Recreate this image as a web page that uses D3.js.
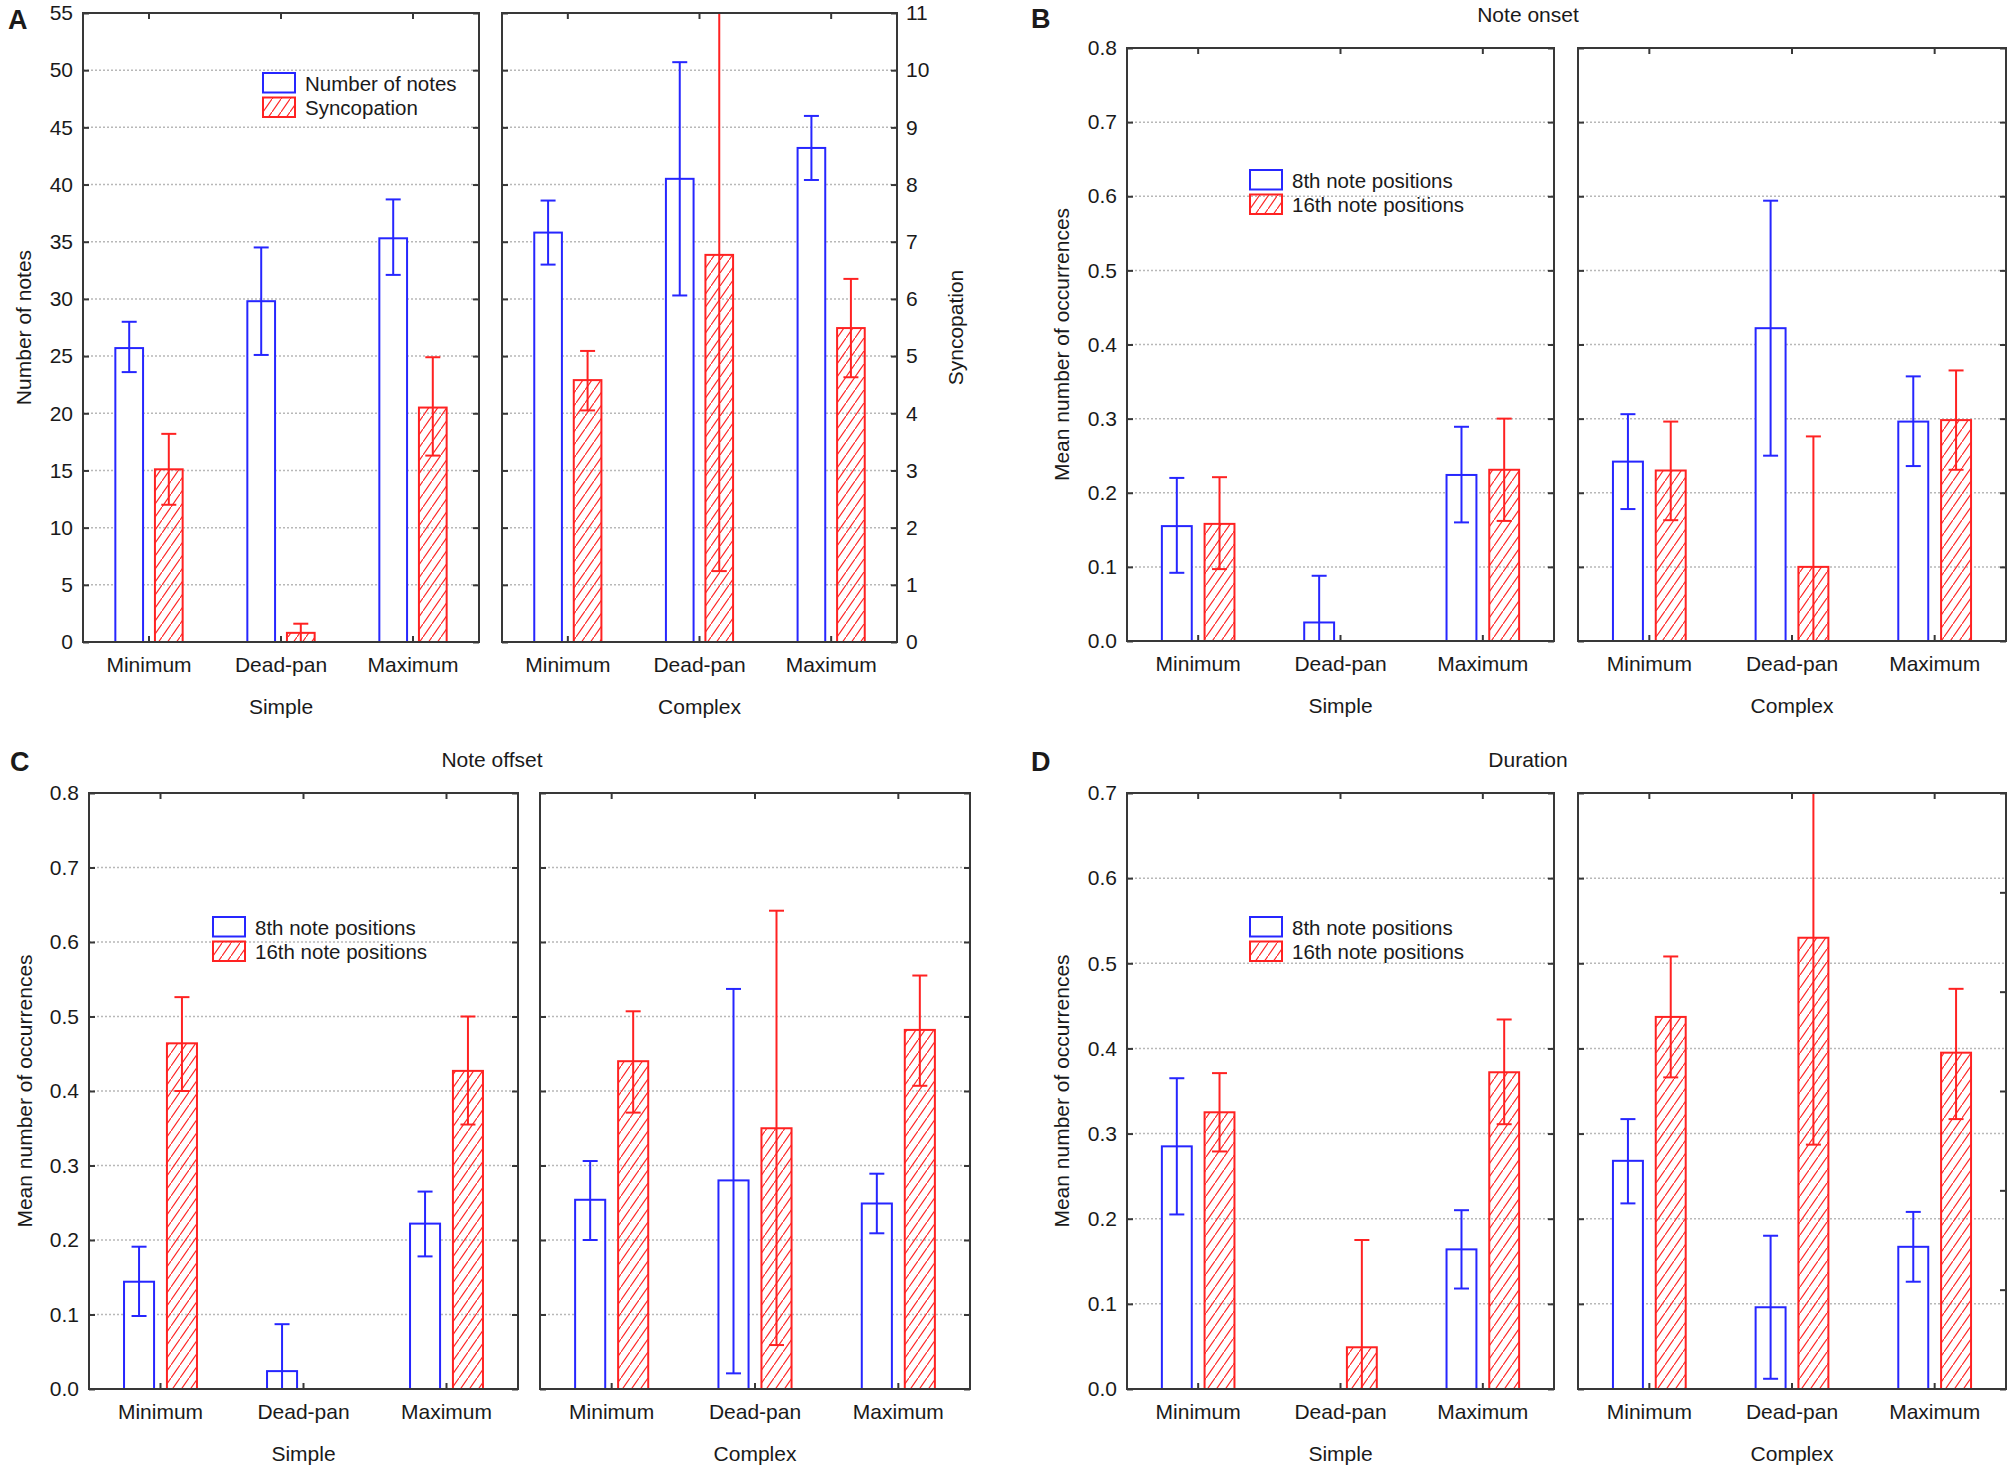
<!DOCTYPE html>
<html>
<head>
<meta charset="utf-8">
<script src="https://cdn.jsdelivr.net/npm/d3@7"></script>
<style>
body { margin: 0; background: #fff; }
text { font-family: "Liberation Sans", Arial, sans-serif; fill: #1a1a1a; }
</style>
</head>
<body>
<svg id="chart" width="2008" height="1469"></svg>
<script>
var conditions = ["Minimum", "Dead-pan", "Maximum"];
var groups = ["Simple", "Complex"];

// values are simple (Min, Dead-pan, Max) then complex (Min, Dead-pan, Max)
// panel A
var notesMean = [25.7, 29.8, 35.3, 35.8, 40.5, 43.2];
var notesLo   = [23.6, 25.1, 32.1, 33.0, 30.3, 40.4];
var notesHi   = [28.0, 34.5, 38.7, 38.6, 50.7, 46.0];
var syncMean  = [3.02, 0.16, 4.10, 4.58, 6.77, 5.49];
var syncLo    = [2.40, 0.00, 3.26, 4.05, 1.24, 4.63];
var syncHi    = [3.64, 0.32, 4.98, 5.09, 12.3, 6.35];
// panel B note onset
var onset8Mean  = [0.155, 0.025, 0.224, 0.242, 0.422, 0.296];
var onset8Lo    = [0.092, -0.038, 0.160, 0.178, 0.250, 0.236];
var onset8Hi    = [0.220, 0.088, 0.289, 0.306, 0.594, 0.357];
var onset16Mean = [0.158, null, 0.231, 0.230, 0.100, 0.298];
var onset16Lo   = [0.097, null, 0.162, 0.163, -0.076, 0.231];
var onset16Hi   = [0.221, null, 0.300, 0.296, 0.276, 0.365];
// panel C note offset
var offset8Mean  = [0.144, 0.024, 0.222, 0.254, 0.280, 0.249];
var offset8Lo    = [0.098, -0.039, 0.178, 0.200, 0.021, 0.209];
var offset8Hi    = [0.191, 0.087, 0.265, 0.306, 0.537, 0.289];
var offset16Mean = [0.464, null, 0.427, 0.440, 0.350, 0.482];
var offset16Lo   = [0.400, null, 0.355, 0.371, 0.059, 0.407];
var offset16Hi   = [0.526, null, 0.500, 0.507, 0.642, 0.555];
// panel D duration
var dur8Mean  = [0.285, null, 0.164, 0.268, 0.096, 0.167];
var dur8Lo    = [0.205, null, 0.118, 0.218, 0.012, 0.126];
var dur8Hi    = [0.365, null, 0.210, 0.317, 0.180, 0.208];
var dur16Mean = [0.325, 0.049, 0.372, 0.437, 0.530, 0.395];
var dur16Lo   = [0.279, -0.077, 0.311, 0.366, 0.287, 0.317];
var dur16Hi   = [0.371, 0.175, 0.434, 0.508, 0.772, 0.470];

var ticksNotes = [0, 5, 10, 15, 20, 25, 30, 35, 40, 45, 50, 55];
var ticksSync = [0, 1, 2, 3, 4, 5, 6, 7, 8, 9, 10, 11];
var ticksOcc8 = [0, 0.1, 0.2, 0.3, 0.4, 0.5, 0.6, 0.7, 0.8];
var ticksOcc7 = [0, 0.1, 0.2, 0.3, 0.4, 0.5, 0.6, 0.7];
var ticksHidden = [0, 1, 2, 3, 4, 5, 6];

var BLUE = "#2626ff", RED = "#ff2222", FRAME = "#383838";
var svg = d3.select("#chart");

var defs = svg.append("defs");
defs.append("pattern")
  .attr("id", "hatch")
  .attr("patternUnits", "userSpaceOnUse")
  .attr("width", 9).attr("height", 13)
  .append("path")
  .attr("d", "M-1,14.4 L10,-1.4")
  .attr("stroke", RED).attr("stroke-width", 1.2);

var clipId = 0;

function styleAxis(g, size) {
  g.select(".domain").remove();
  g.selectAll(".tick line").attr("stroke", FRAME).attr("stroke-width", 2);
  g.selectAll("text").attr("font-size", size || 21).attr("font-family", null).attr("fill", "#1a1a1a");
}

function panel(p) {
  var y = d3.scaleLinear().domain(p.domain).range([p.bottom, p.top]);
  var y2 = p.domain2 ? d3.scaleLinear().domain(p.domain2).range([p.bottom, p.top]) : y;

  p.frames.forEach(function(fr, gi) {
    var g = svg.append("g");
    var xc = d3.scaleBand().domain(conditions).range(fr).paddingInner(0.49).paddingOuter(0.245);
    var xs = d3.scaleBand().domain([0, 1]).range([0, xc.bandwidth()]).paddingInner(0.3);

    // grid
    g.selectAll(".grid")
      .data(p.ticks.slice(1, -1))
      .enter().append("line")
      .attr("x1", fr[0]).attr("x2", fr[1])
      .attr("y1", d => y(d)).attr("y2", d => y(d))
      .attr("stroke", "#b8b8b8").attr("stroke-width", 1.5)
      .attr("stroke-dasharray", "2,2");

    clipId++;
    defs.append("clipPath").attr("id", "clip" + clipId)
      .append("rect")
      .attr("x", fr[0]).attr("y", p.top)
      .attr("width", fr[1] - fr[0]).attr("height", p.bottom - p.top);

    var plot = g.append("g").attr("clip-path", "url(#clip" + clipId + ")");

    p.series.forEach(function(s, si) {
      var sc = s.right ? y2 : y;
      var col = si == 0 ? BLUE : RED;
      conditions.forEach(function(c, ci) {
        var k = gi * 3 + ci;
        if (s.mean[k] == null) return;
        var bx = xc(c) + xs(si);
        plot.append("rect")
          .attr("x", bx).attr("width", xs.bandwidth())
          .attr("y", sc(s.mean[k]))
          .attr("height", sc(0) - sc(s.mean[k]))
          .attr("fill", si == 0 ? "#fff" : "url(#hatch)")
          .attr("stroke", col).attr("stroke-width", 2);
        var cx = bx + xs.bandwidth() / 2;
        plot.append("line")
          .attr("x1", cx).attr("x2", cx)
          .attr("y1", sc(s.lo[k])).attr("y2", sc(s.hi[k]))
          .attr("stroke", col).attr("stroke-width", 2);
        [s.lo[k], s.hi[k]].forEach(function(v) {
          plot.append("line")
            .attr("x1", cx - 7.5).attr("x2", cx + 7.5)
            .attr("y1", sc(v)).attr("y2", sc(v))
            .attr("stroke", col).attr("stroke-width", 2);
        });
      });
    });

    g.append("rect")
      .attr("x", fr[0]).attr("y", p.top)
      .attr("width", fr[1] - fr[0]).attr("height", p.bottom - p.top)
      .attr("fill", "none").attr("stroke", FRAME).attr("stroke-width", 2);

    // inner ticks on all four edges
    g.append("g").attr("transform", "translate(" + fr[0] + ",0)")
      .call(d3.axisLeft(y).tickValues(p.ticks).tickSize(-6).tickPadding(10)
        .tickFormat(gi == 0 ? p.fmt : ""))
      .call(styleAxis);
    var rightAxis;
    if (gi == 1 && p.domain2) {
      rightAxis = d3.axisRight(y2).tickValues(p.ticks2).tickSize(-6).tickPadding(9).tickFormat(d3.format("d"));
    } else if (gi == 1 && p.hiddenRight) {
      var yh = d3.scaleLinear().domain([0, 6]).range([p.bottom, p.top]);
      rightAxis = d3.axisRight(yh).tickValues(ticksHidden).tickSize(-6).tickFormat("");
    } else {
      rightAxis = d3.axisRight(y).tickValues(p.ticks).tickSize(-6).tickFormat("");
    }
    g.append("g").attr("transform", "translate(" + fr[1] + ",0)")
      .call(rightAxis).call(styleAxis);
    g.append("g").attr("transform", "translate(0," + p.top + ")")
      .call(d3.axisTop(xc).tickSize(-6).tickFormat(""))
      .call(styleAxis);
    g.append("g").attr("transform", "translate(0," + p.bottom + ")")
      .call(d3.axisBottom(xc).tickSize(-6).tickPadding(15))
      .call(styleAxis);

    g.append("text")
      .attr("x", (fr[0] + fr[1]) / 2).attr("y", p.bottom + 72)
      .attr("text-anchor", "middle").attr("font-size", 21)
      .text(groups[gi]);
  });

  var mid = (p.top + p.bottom) / 2;
  svg.append("text")
    .attr("transform", "translate(" + p.ylabelX + "," + mid + ") rotate(-90)")
    .attr("text-anchor", "middle").attr("dominant-baseline", "central")
    .attr("font-size", 21).text(p.ylabel);
  if (p.ylabel2) {
    svg.append("text")
      .attr("transform", "translate(" + p.ylabel2X + "," + mid + ") rotate(-90)")
      .attr("text-anchor", "middle").attr("dominant-baseline", "central")
      .attr("font-size", 21).text(p.ylabel2);
  }
  svg.append("text")
    .attr("x", p.letter[0]).attr("y", p.letter[1])
    .attr("font-size", 27).attr("font-weight", "bold")
    .text(p.letter[2]);
  if (p.title) {
    svg.append("text")
      .attr("x", p.title[0]).attr("y", p.title[1])
      .attr("text-anchor", "middle").attr("font-size", 21)
      .text(p.title[2]);
  }

  // legend
  var lg = svg.append("g").attr("transform", "translate(" + p.legend[0] + "," + p.legend[1] + ")");
  p.series.forEach(function(s, si) {
    lg.append("rect")
      .attr("x", 0).attr("y", si * 24.5)
      .attr("width", 32).attr("height", 19.5)
      .attr("fill", si == 0 ? "#fff" : "url(#hatch)")
      .attr("stroke", si == 0 ? BLUE : RED).attr("stroke-width", 2);
    lg.append("text")
      .attr("x", 42).attr("y", si * 24.5 + 10)
      .attr("dominant-baseline", "central")
      .attr("font-size", 20.5)
      .text(s.name);
  });
}

panel({
  frames: [[83, 479], [502, 897]], top: 13, bottom: 642,
  domain: [0, 55], ticks: ticksNotes, fmt: d3.format("d"),
  domain2: [0, 11], ticks2: ticksSync,
  series: [
    {name: "Number of notes", mean: notesMean, lo: notesLo, hi: notesHi},
    {name: "Syncopation", mean: syncMean, lo: syncLo, hi: syncHi, right: true}
  ],
  ylabel: "Number of notes", ylabelX: 23,
  ylabel2: "Syncopation", ylabel2X: 955,
  letter: [8, 29, "A"], legend: [263, 73]
});

panel({
  frames: [[1127, 1554], [1578, 2006]], top: 48, bottom: 641,
  domain: [0, 0.8], ticks: ticksOcc8, fmt: d3.format(".1f"),
  series: [
    {name: "8th note positions", mean: onset8Mean, lo: onset8Lo, hi: onset8Hi},
    {name: "16th note positions", mean: onset16Mean, lo: onset16Lo, hi: onset16Hi}
  ],
  ylabel: "Mean number of occurrences", ylabelX: 1061,
  letter: [1031, 28, "B"], title: [1528, 22, "Note onset"], legend: [1250, 170]
});

panel({
  frames: [[89, 518], [540, 970]], top: 793, bottom: 1389,
  domain: [0, 0.8], ticks: ticksOcc8, fmt: d3.format(".1f"),
  series: [
    {name: "8th note positions", mean: offset8Mean, lo: offset8Lo, hi: offset8Hi},
    {name: "16th note positions", mean: offset16Mean, lo: offset16Lo, hi: offset16Hi}
  ],
  ylabel: "Mean number of occurrences", ylabelX: 24,
  letter: [10, 771, "C"], title: [492, 767, "Note offset"], legend: [213, 917]
});

panel({
  frames: [[1127, 1554], [1578, 2006]], top: 793, bottom: 1389,
  domain: [0, 0.7], ticks: ticksOcc7, fmt: d3.format(".1f"), hiddenRight: true,
  series: [
    {name: "8th note positions", mean: dur8Mean, lo: dur8Lo, hi: dur8Hi},
    {name: "16th note positions", mean: dur16Mean, lo: dur16Lo, hi: dur16Hi}
  ],
  ylabel: "Mean number of occurrences", ylabelX: 1061,
  letter: [1031, 771, "D"], title: [1528, 767, "Duration"], legend: [1250, 917]
});
</script>
</body>
</html>
